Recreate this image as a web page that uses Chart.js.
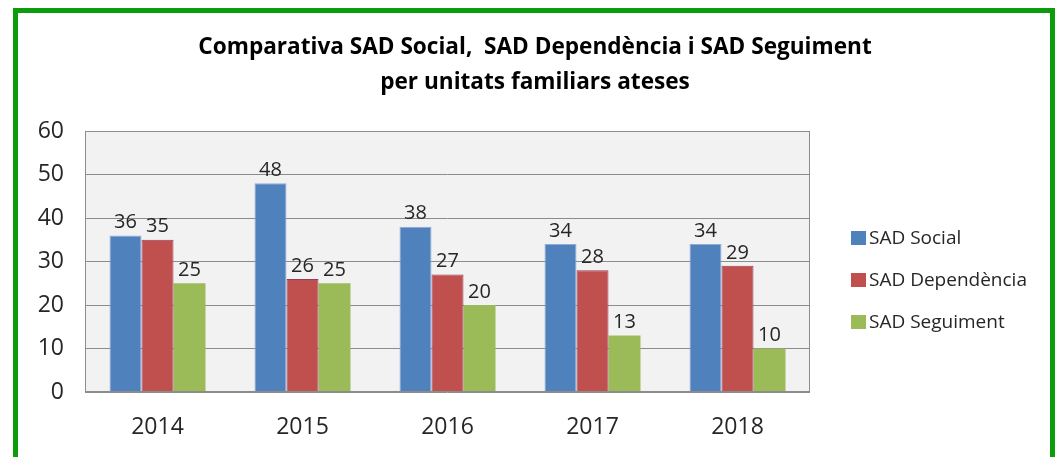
<!DOCTYPE html>
<html>
<head>
<meta charset="utf-8">
<script src="https://cdn.jsdelivr.net/npm/chart.js@4"></script>
<style>
  html, body { margin: 0; padding: 0; background: #fff; overflow: hidden; }
  #wrap { position: relative; width: 1059px; height: 457px; }
  #frame {
    position: absolute; left: 13px; top: 8px; width: 1032px; height: 520px;
    border: 5px solid #0a9c0a; pointer-events: none;
  }
  canvas { position: absolute; left: 0; top: 0; }
</style>
</head>
<body>
<div id="wrap">
  <canvas id="chart" width="1059" height="457"></canvas>
  <div id="frame"></div>
</div>
<script>
const TITLE_LINES = ["Comparativa SAD Social,  SAD Dependència i SAD Seguiment", "per unitats familiars ateses"];
const YEARS = ["2014", "2015", "2016", "2017", "2018"];
const SAD_SOCIAL = [36, 48, 38, 34, 34];
const SAD_DEPENDENCIA = [35, 26, 27, 28, 29];
const SAD_SEGUIMENT = [25, 25, 20, 13, 10];
const Y_TICKS = [0, 10, 20, 30, 40, 50, 60];

const FONT = "'Open Sans', sans-serif";
const TEXT_COLOR = "#262626";

// plot background, border, title, legend and value labels
const decorPlugin = {
  id: "decor",
  beforeDraw(chart) {
    const { ctx, chartArea: a } = chart;
    ctx.save();
    ctx.fillStyle = "#f2f2f2";
    ctx.fillRect(a.left, a.top, a.right - a.left, a.bottom - a.top);
    ctx.restore();
  },
  afterDatasetsDraw(chart) {
    const { ctx, chartArea: a } = chart;
    ctx.save();
    ctx.strokeStyle = "#8c8c8c";
    ctx.lineWidth = 1;
    ctx.strokeRect(Math.round(a.left) + 0.5, Math.round(a.top) + 0.5,
      Math.round(a.right - a.left) - 1, Math.round(a.bottom - a.top) - 1);

    // value labels
    ctx.font = `20px ${FONT}`;
    ctx.fillStyle = TEXT_COLOR;
    ctx.textAlign = "center";
    ctx.textBaseline = "bottom";
    chart.data.datasets.forEach((ds, i) => {
      chart.getDatasetMeta(i).data.forEach((bar, j) => {
        ctx.fillText(String(ds.data[j]), bar.x, bar.y - 3);
      });
    });

    // title
    ctx.font = `bold 22.6px ${FONT}`;
    ctx.fillStyle = "#000";
    ctx.textBaseline = "middle";
    TITLE_LINES.forEach((line, i) => ctx.fillText(line, 535, 48 + i * 35));

    // legend
    ctx.font = `19px ${FONT}`;
    ctx.textAlign = "left";
    chart.data.datasets.forEach((ds, i) => {
      const y = 238 + i * 42;
      ctx.fillStyle = ds.backgroundColor;
      ctx.fillRect(851, y - 7, 15, 14);
      ctx.fillStyle = TEXT_COLOR;
      ctx.fillText(ds.label, 869, y + 1);
    });
    ctx.restore();
  },
};

new Chart(document.querySelector("#chart"), {
  type: "bar",
  data: {
    labels: YEARS,
    datasets: [
      { label: "SAD Social", data: SAD_SOCIAL, backgroundColor: "#4f81bd", borderColor: "#8eaadb", borderWidth: 1 },
      { label: "SAD Dependència", data: SAD_DEPENDENCIA, backgroundColor: "#c0504d", borderColor: "#993a5c", borderWidth: 1 },
      { label: "SAD Seguiment", data: SAD_SEGUIMENT, backgroundColor: "#9bbb59", borderColor: "#9bbb59", borderWidth: 0 },
    ],
  },
  options: {
    responsive: false,
    animation: false,
    layout: { padding: { left: 0, top: 131, right: 249, bottom: 0 } },
    datasets: { bar: { categoryPercentage: 0.662, barPercentage: 1 } },
    plugins: {
      legend: { display: false },
      title: { display: false },
      tooltip: { enabled: false },
    },
    scales: {
      x: {
        afterFit: (scale) => { scale.height = 65; },
        grid: { display: false, drawTicks: false },
        border: { display: false },
        ticks: { color: TEXT_COLOR, font: { family: FONT, size: 23 }, padding: 22 },
      },
      y: {
        min: 0,
        max: 60,
        afterFit: (scale) => { scale.width = 85; },
        afterBuildTicks: (scale) => { scale.ticks = Y_TICKS.map((v) => ({ value: v })); },
        grid: { color: "#8c8c8c", drawTicks: false },
        border: { display: false },
        ticks: { color: TEXT_COLOR, font: { family: FONT, size: 23 }, padding: 21 },
      },
    },
  },
  plugins: [decorPlugin],
});
</script>
</body>
</html>
